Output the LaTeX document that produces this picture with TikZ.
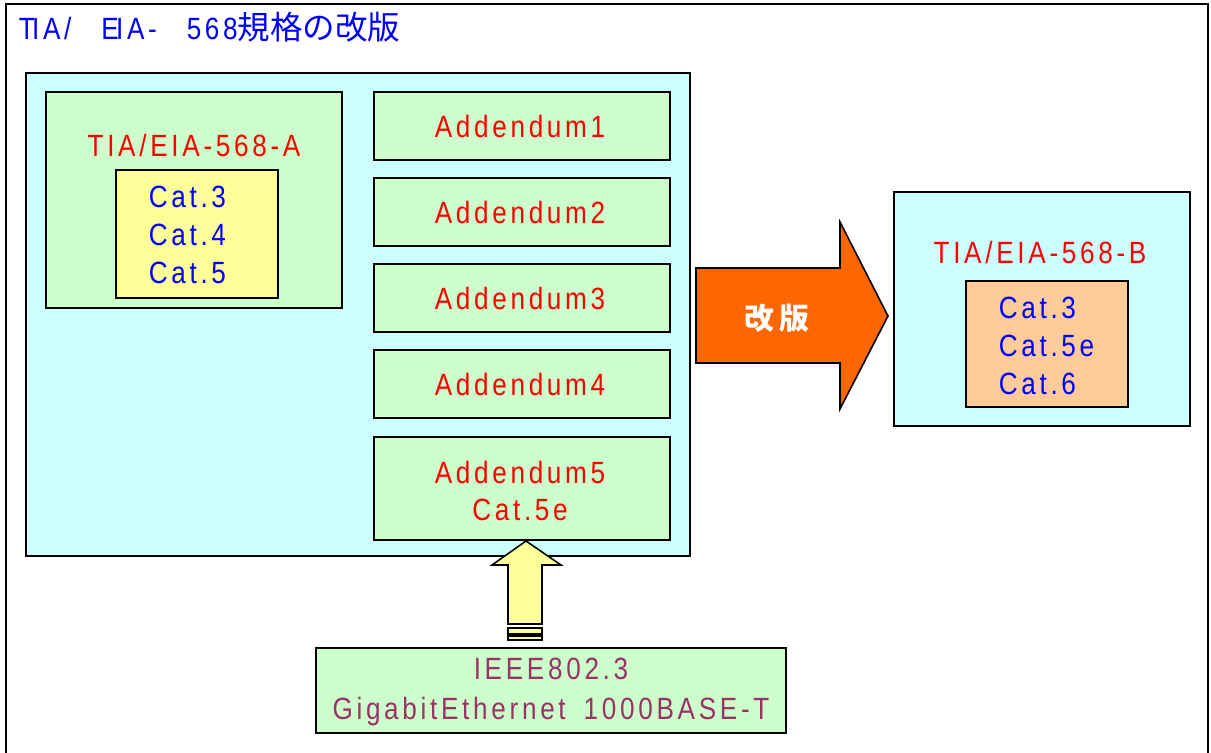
\documentclass[tikz,border=0pt]{standalone}
\usepackage{fontspec}
\setmainfont{Liberation Sans}[LetterSpace=12, FakeStretch=0.85]
\newfontfamily\jpfont{Noto Sans CJK JP}
\usetikzlibrary{positioning}

\definecolor{skyfill}{HTML}{CCFFFF}
\definecolor{mintfill}{HTML}{CCFFCC}
\definecolor{lemonfill}{HTML}{FFFF99}
\definecolor{peachfill}{HTML}{FFCC99}
\definecolor{revorange}{HTML}{FF6600}
\definecolor{plum}{HTML}{993366}

\tikzset{
  txt/.style={inner sep=0pt, font=\fontsize{17.5}{21.5}\selectfont},
  redtxt/.style={txt, text=red, align=center},
  bluetxt/.style={txt, text=blue, align=left},
}

\begin{document}
\begin{tikzpicture}[x=0.02cm, y=-0.02cm, line width=0.9pt]
  \useasboundingbox (0,0) rectangle (1211,753);
  \draw (6,770) -- (6,4) -- (1208,4) -- (1208,770);
  \node[txt, text=blue, anchor=west] (title) at (18,27)
    {T\kern-1.5pt IA/\hspace{17pt}E\kern-1.5pt IA-\hspace{17pt}568{\jpfont\fontsize{18.5}{20}\selectfont 規格の改版}};

  % revision A
  \filldraw[fill=skyfill] (26,73) rectangle (690,556);
  \filldraw[fill=mintfill] (46,92) rectangle (342,308);
  \node[redtxt] (stdA) at (194,146) {TIA/EIA-568-A};
  \filldraw[fill=lemonfill] (116,170) rectangle (278,298);
  \node[bluetxt, anchor=west] (catA) at (148,235) {Cat.3\\Cat.4\\Cat.5};

  \filldraw[fill=mintfill] (374,92) rectangle (670,160);
  \node[redtxt] (add1) at (520,127) {Addendum1};
  \filldraw[fill=mintfill] (374,178) rectangle (670,246);
  \node[redtxt] (add2) at (520,213) {Addendum2};
  \filldraw[fill=mintfill] (374,264) rectangle (670,332);
  \node[redtxt] (add3) at (520,299) {Addendum3};
  \filldraw[fill=mintfill] (374,350) rectangle (670,418);
  \node[redtxt] (add4) at (520,385) {Addendum4};
  \filldraw[fill=mintfill] (374,437) rectangle (670,540);
  \node[redtxt] (add5) at (520,491) {Addendum5\\Cat.5e};

  % revision arrow
  \filldraw[fill=revorange] (696,268) -- (840,268) -- (840,222) -- (888,316)
    -- (840,409) -- (840,363) -- (696,363) -- cycle;
  \node[txt, text=white, font=\fontsize{17}{20}\selectfont\jpfont\bfseries] (rev) at (777,318) {改\,版};

  % revision B
  \filldraw[fill=skyfill] (894,192) rectangle (1190,426);
  \node[redtxt] (stdB) at (1040,253) {TIA/EIA-568-B};
  \filldraw[fill=peachfill] (966,281) rectangle (1128,407);
  \node[bluetxt, anchor=west] (catB) at (998,346) {Cat.3\\Cat.5e\\Cat.6};

  % gigabit ethernet
  \filldraw[fill=lemonfill] (526,541) -- (561,565) -- (542,565) -- (542,624)
    -- (508,624) -- (508,565) -- (492,565) -- cycle;
  \filldraw[fill=lemonfill] (508,628) rectangle (542,634);
  \filldraw[fill=lemonfill] (508,636) rectangle (542,640);
  \filldraw[fill=mintfill] (316,648) rectangle (786,733);
  \node[txt, text=plum, align=center, font=\fontsize{17.5}{23}\selectfont] (gbe) at (551,692)
    {IEEE802.3\\GigabitEthernet\hspace{4pt} 1000BASE-T};
\end{tikzpicture}
\end{document}
